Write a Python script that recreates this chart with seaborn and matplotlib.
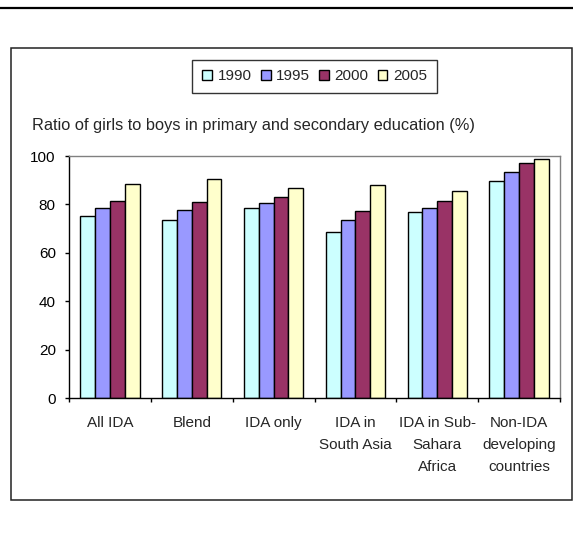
import numpy as np
import pandas as pd
import matplotlib
matplotlib.use("Agg")
import matplotlib.pyplot as plt
from matplotlib.lines import Line2D
from matplotlib.patches import Rectangle
import seaborn as sns

# Ratio of girls to boys in primary and secondary education (%)
groups = ["All IDA", "Blend", "IDA only", "IDA in\nSouth Asia",
          "IDA in Sub-\nSahara\nAfrica", "Non-IDA\ndeveloping\ncountries"]
years = ["1990", "1995", "2000", "2005"]
ratio_1990 = [75.3, 73.5, 78.6, 68.7, 76.7, 89.7]
ratio_1995 = [78.6, 77.9, 80.5, 73.5, 78.6, 93.6]
ratio_2000 = [81.6, 81.1, 83.0, 77.4, 81.6, 97.3]
ratio_2005 = [88.5, 90.4, 86.6, 88.1, 85.5, 98.6]
y_ticks = [0, 20, 40, 60, 80, 100]
colors = ["#CCFFFF", "#9999FF", "#993366", "#FFFFCC"]

series = [ratio_1990, ratio_1995, ratio_2000, ratio_2005]
df = pd.DataFrame({
    "group": [g for _ in years for g in groups],
    "year": [y for y in years for _ in groups],
    "ratio": [v for s in series for v in s],
})

sns.set_style("white")
plt.rcParams["font.family"] = ["Liberation Sans", "DejaVu Sans"]
FS = 11

W, H = 573, 537
fig = plt.figure(figsize=(W / 100, H / 100), dpi=100)
fig.patch.set_facecolor("white")

# plot area in pixel coordinates
left, right, top, bottom = 69, 560, 156, 398.3
ax = fig.add_axes([left / W, 1 - bottom / H, (right - left) / W, (bottom - top) / H])

sns.barplot(data=df, x="group", y="ratio", hue="year", order=groups,
            hue_order=years, palette=colors, width=0.727, gap=0,
            edgecolor="black", linewidth=1.0, saturation=1, ax=ax)

ax.set_xlim(-0.5, len(groups) - 0.5)
ax.set_ylim(0, 100)
ax.set_xlabel("")
ax.set_ylabel("")
ax.set_yticks(y_ticks)
ax.set_yticklabels([str(t) for t in y_ticks], fontsize=FS)
ax.tick_params(axis="y", direction="out", length=3, width=1, pad=6.5,
               colors="black", left=True)

ax.set_xticks(range(len(groups)))
ax.set_xticklabels(groups, fontsize=FS, linespacing=1.72,
                   multialignment="center")
ax.tick_params(axis="x", which="major", length=0, pad=12.5)
ax.set_xticks(np.arange(-0.5, len(groups), 1.0), minor=True)
ax.tick_params(axis="x", which="minor", direction="out", length=3,
               width=1, color="black", bottom=True)

for side in ["left", "bottom"]:
    ax.spines[side].set_color("black")
    ax.spines[side].set_linewidth(1.0)
for side in ["top", "right"]:
    ax.spines[side].set_color("#808080")
    ax.spines[side].set_linewidth(1.0)

# legend above the plot area
handles, labels = ax.get_legend_handles_labels()
if ax.legend_:
    ax.legend_.remove()
leg = fig.legend(handles, labels, loc="center",
                 bbox_to_anchor=(314.5 / W, 1 - 76.5 / H), ncol=4,
                 fontsize=FS, frameon=True, fancybox=False, shadow=False,
                 handlelength=0.65, handleheight=0.65, handletextpad=0.35,
                 columnspacing=0.6, borderpad=0.65, borderaxespad=0)
leg.get_frame().set_edgecolor("black")
leg.get_frame().set_linewidth(1.0)
for h in leg.legend_handles:
    h.set_edgecolor("black")
    h.set_linewidth(1.0)

fig.text(32 / W, 1 - 130 / H,
         "Ratio of girls to boys in primary and secondary education (%)",
         fontsize=11.8, va="baseline", ha="left")

# chart frame and rule at the top of the page
fig.add_artist(Rectangle((11 / W, 1 - 500 / H), (572 - 11) / W, (500 - 48) / H,
                         transform=fig.transFigure, fill=False,
                         edgecolor="#222222", linewidth=1.1))
fig.add_artist(Line2D([0, 1], [1 - 7.5 / H] * 2, transform=fig.transFigure,
                      color="black", linewidth=1.6))

fig.savefig("out.png", dpi=100)
